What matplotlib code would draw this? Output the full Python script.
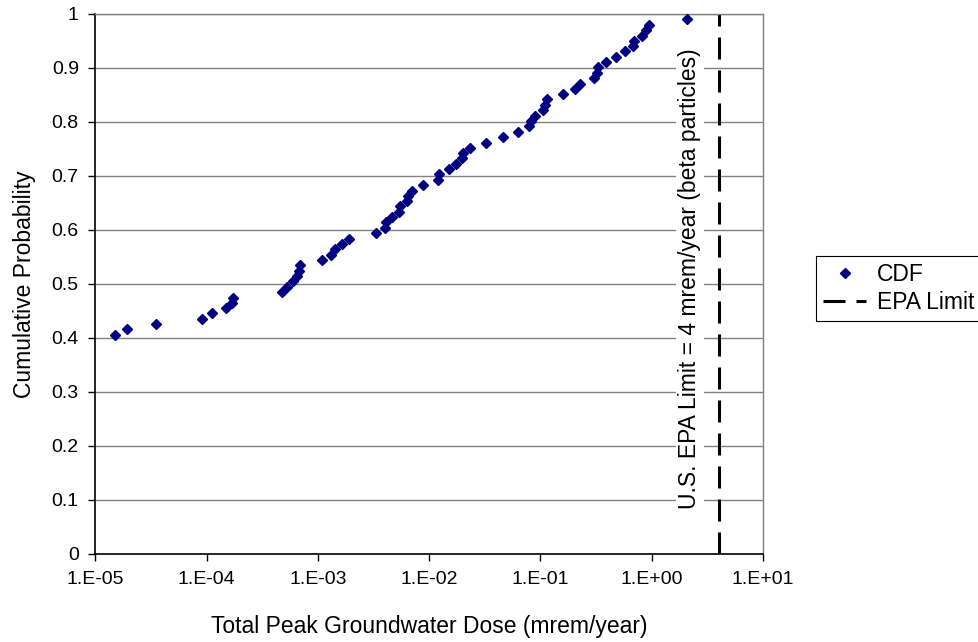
import numpy as np
import matplotlib
matplotlib.use('Agg')
import matplotlib.pyplot as plt
from matplotlib.ticker import FixedLocator, NullLocator

plt.rcParams['font.family'] = ['Liberation Sans', 'DejaVu Sans']

# total peak groundwater dose (mrem/year)
dose = [1.49e-5, 1.91e-5, 3.52e-5, 9.02e-5, 1.12e-4, 1.49e-4, 1.69e-4, 1.71e-4,
        4.75e-4, 5.24e-4, 5.93e-4, 6.48e-4, 6.72e-4, 6.86e-4, 1.08e-3, 1.30e-3,
        1.41e-3, 1.64e-3, 1.90e-3, 3.32e-3, 4.00e-3, 4.09e-3, 4.60e-3, 5.32e-3,
        5.46e-3, 6.28e-3, 6.41e-3, 7.01e-3, 8.74e-3, 1.21e-2, 1.23e-2, 1.50e-2,
        1.74e-2, 1.96e-2, 2.02e-2, 2.32e-2, 3.21e-2, 4.64e-2, 6.25e-2, 7.94e-2,
        8.22e-2, 8.93e-2, 0.105, 0.110, 0.114, 0.160, 0.205, 0.227, 0.305, 0.324,
        0.331, 0.386, 0.478, 0.572, 0.683, 0.693, 0.813, 0.889, 0.951, 2.08]
# cumulative probability for each point
prob = [0.406, 0.416, 0.426, 0.436, 0.446, 0.455, 0.465, 0.475, 0.485, 0.495,
        0.505, 0.515, 0.525, 0.535, 0.545, 0.554, 0.564, 0.574, 0.584, 0.594,
        0.604, 0.614, 0.624, 0.634, 0.644, 0.653, 0.663, 0.673, 0.683, 0.693,
        0.703, 0.713, 0.723, 0.733, 0.743, 0.752, 0.762, 0.772, 0.782, 0.792,
        0.802, 0.812, 0.822, 0.832, 0.842, 0.851, 0.861, 0.871, 0.881, 0.891,
        0.901, 0.911, 0.921, 0.931, 0.941, 0.950, 0.960, 0.970, 0.980, 0.990]

epa_limit = 4.0
xticks = [1e-5, 1e-4, 1e-3, 1e-2, 1e-1, 1e0, 1e1]
xlabels = ['1.E-05', '1.E-04', '1.E-03', '1.E-02', '1.E-01', '1.E+00', '1.E+01']
yticks = [0, 0.1, 0.2, 0.3, 0.4, 0.5, 0.6, 0.7, 0.8, 0.9, 1]
ylabels = ['0', '0.1', '0.2', '0.3', '0.4', '0.5', '0.6', '0.7', '0.8', '0.9', '1']

fig = plt.figure(figsize=(9.79, 6.42), dpi=100)
ax = fig.add_axes([95.45/979, 88/642, (762.9-95.45)/979, 540/642])

ax.set_xscale('log')
ax.set_xlim(1e-5, 1e1)
ax.set_ylim(0, 1)

for y in yticks[1:]:
    ax.axhline(y, color='#808080', lw=1.0, zorder=1)

ax.plot(dose, prob, linestyle='none', marker='D', markersize=5,
        color='#000080', label='CDF', zorder=3)
ax.axvline(epa_limit, color='black', lw=2.2, dashes=(7.2, 3.6),
           label='EPA Limit', zorder=2)

ax.text(2.2, 0.51, 'U.S. EPA Limit = 4 mrem/year (beta particles)',
        rotation=90, ha='center', va='center', fontsize=16.5,
        bbox=dict(facecolor='white', edgecolor='none', pad=2), zorder=2.5)

ax.xaxis.set_major_locator(FixedLocator(xticks))
ax.xaxis.set_minor_locator(NullLocator())
ax.set_xticklabels(xlabels)
ax.set_yticks(yticks)
ax.set_yticklabels(ylabels)
ax.tick_params(axis='both', direction='out', length=5, width=1, labelsize=14, pad=7)

for s in ['top', 'right']:
    ax.spines[s].set_color('#808080')
    ax.spines[s].set_linewidth(1)
for s in ['left', 'bottom']:
    ax.spines[s].set_color('black')
    ax.spines[s].set_linewidth(1.2)

ax.set_xlabel('Total Peak Groundwater Dose (mrem/year)', fontsize=16.5, labelpad=20)
ax.set_ylabel('Cumulative Probability', fontsize=16.5, labelpad=11)

leg = ax.legend(loc='center left', bbox_to_anchor=(816/979, (0.6075+0.4938)/2),
                bbox_transform=fig.transFigure, frameon=True, fancybox=False,
                edgecolor='black', framealpha=1, fontsize=16.5, handlelength=1.9,
                borderpad=0.3, labelspacing=0.25, handletextpad=0.45, borderaxespad=0)
leg.get_frame().set_linewidth(0.8)

fig.savefig('out.png', dpi=100)
